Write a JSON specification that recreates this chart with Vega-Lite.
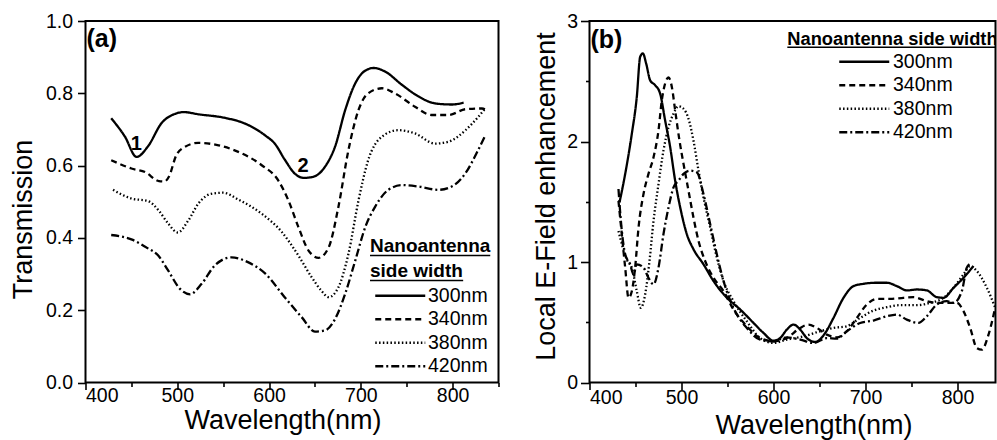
{
  "$schema": "https://vega.github.io/schema/vega-lite/v6.json",
  "padding": {"left": 7.5, "top": 10, "right": 0, "bottom": 0},
  "background": "white",
  "config": {
    "font": "Liberation Sans",
    "view": {"stroke": "black", "strokeWidth": 2},
    "axis": {
      "domain": false,
      "grid": false,
      "tickColor": "black",
      "tickWidth": 1.6,
      "labelColor": "black",
      "labelFont": "Liberation Sans",
      "labelFontSize": 19.5,
      "labelOverlap": false,
      "titleColor": "black",
      "titleFont": "Liberation Sans",
      "titleFontSize": 27,
      "titleFontWeight": "normal"
    },
    "legend": {"padding": 0}
  },
  "datasets": {
    "a": [
      {"w": 428, "s": "300nm", "t": 0.731},
      {"w": 443, "s": "300nm", "t": 0.680},
      {"w": 455.6, "s": "300nm", "t": 0.624},
      {"w": 468, "s": "300nm", "t": 0.653},
      {"w": 483, "s": "300nm", "t": 0.718},
      {"w": 497.5, "s": "300nm", "t": 0.743},
      {"w": 507, "s": "300nm", "t": 0.748},
      {"w": 523, "s": "300nm", "t": 0.742},
      {"w": 552, "s": "300nm", "t": 0.732},
      {"w": 574, "s": "300nm", "t": 0.716},
      {"w": 596, "s": "300nm", "t": 0.683},
      {"w": 606.5, "s": "300nm", "t": 0.660},
      {"w": 617, "s": "300nm", "t": 0.617},
      {"w": 628, "s": "300nm", "t": 0.578},
      {"w": 638, "s": "300nm", "t": 0.566},
      {"w": 648, "s": "300nm", "t": 0.569},
      {"w": 661, "s": "300nm", "t": 0.597},
      {"w": 672, "s": "300nm", "t": 0.653},
      {"w": 683, "s": "300nm", "t": 0.754},
      {"w": 694, "s": "300nm", "t": 0.828},
      {"w": 705, "s": "300nm", "t": 0.863},
      {"w": 714, "s": "300nm", "t": 0.870},
      {"w": 726.5, "s": "300nm", "t": 0.860},
      {"w": 745, "s": "300nm", "t": 0.823},
      {"w": 763, "s": "300nm", "t": 0.791},
      {"w": 781, "s": "300nm", "t": 0.772},
      {"w": 799, "s": "300nm", "t": 0.769},
      {"w": 812, "s": "300nm", "t": 0.774},

      {"w": 428, "s": "340nm", "t": 0.615},
      {"w": 450, "s": "340nm", "t": 0.592},
      {"w": 465, "s": "340nm", "t": 0.582},
      {"w": 480, "s": "340nm", "t": 0.557},
      {"w": 486, "s": "340nm", "t": 0.556},
      {"w": 491, "s": "340nm", "t": 0.570},
      {"w": 499, "s": "340nm", "t": 0.629},
      {"w": 508.5, "s": "340nm", "t": 0.652},
      {"w": 523, "s": "340nm", "t": 0.663},
      {"w": 545, "s": "340nm", "t": 0.656},
      {"w": 566.5, "s": "340nm", "t": 0.638},
      {"w": 592, "s": "340nm", "t": 0.601},
      {"w": 610, "s": "340nm", "t": 0.559},
      {"w": 621, "s": "340nm", "t": 0.504},
      {"w": 632, "s": "340nm", "t": 0.430},
      {"w": 643, "s": "340nm", "t": 0.365},
      {"w": 654, "s": "340nm", "t": 0.345},
      {"w": 665, "s": "340nm", "t": 0.374},
      {"w": 675.5, "s": "340nm", "t": 0.485},
      {"w": 686.5, "s": "340nm", "t": 0.643},
      {"w": 697.5, "s": "340nm", "t": 0.754},
      {"w": 708, "s": "340nm", "t": 0.800},
      {"w": 723, "s": "340nm", "t": 0.814},
      {"w": 737, "s": "340nm", "t": 0.800},
      {"w": 759, "s": "340nm", "t": 0.763},
      {"w": 777, "s": "340nm", "t": 0.740},
      {"w": 795.5, "s": "340nm", "t": 0.740},
      {"w": 814, "s": "340nm", "t": 0.756},
      {"w": 832, "s": "340nm", "t": 0.758},
      {"w": 837, "s": "340nm", "t": 0.754},

      {"w": 430, "s": "380nm", "t": 0.533},
      {"w": 450, "s": "380nm", "t": 0.509},
      {"w": 468, "s": "380nm", "t": 0.502},
      {"w": 480, "s": "380nm", "t": 0.475},
      {"w": 490, "s": "380nm", "t": 0.440},
      {"w": 500.5, "s": "380nm", "t": 0.415},
      {"w": 512, "s": "380nm", "t": 0.448},
      {"w": 523, "s": "380nm", "t": 0.495},
      {"w": 537, "s": "380nm", "t": 0.522},
      {"w": 550, "s": "380nm", "t": 0.525},
      {"w": 566.5, "s": "380nm", "t": 0.506},
      {"w": 592, "s": "380nm", "t": 0.467},
      {"w": 614, "s": "380nm", "t": 0.416},
      {"w": 632, "s": "380nm", "t": 0.351},
      {"w": 646.5, "s": "380nm", "t": 0.291},
      {"w": 657, "s": "380nm", "t": 0.254},
      {"w": 665, "s": "380nm", "t": 0.236},
      {"w": 675.5, "s": "380nm", "t": 0.263},
      {"w": 686.5, "s": "380nm", "t": 0.356},
      {"w": 697.5, "s": "380nm", "t": 0.504},
      {"w": 708, "s": "380nm", "t": 0.615},
      {"w": 723, "s": "380nm", "t": 0.680},
      {"w": 741, "s": "380nm", "t": 0.698},
      {"w": 759, "s": "380nm", "t": 0.689},
      {"w": 781, "s": "380nm", "t": 0.661},
      {"w": 795.5, "s": "380nm", "t": 0.666},
      {"w": 814, "s": "380nm", "t": 0.698},
      {"w": 828, "s": "380nm", "t": 0.735},
      {"w": 835.5, "s": "380nm", "t": 0.758},

      {"w": 428, "s": "420nm", "t": 0.408},
      {"w": 450, "s": "420nm", "t": 0.396},
      {"w": 468, "s": "420nm", "t": 0.371},
      {"w": 479, "s": "420nm", "t": 0.352},
      {"w": 490, "s": "420nm", "t": 0.310},
      {"w": 503, "s": "420nm", "t": 0.259},
      {"w": 514, "s": "420nm", "t": 0.244},
      {"w": 526.5, "s": "420nm", "t": 0.273},
      {"w": 541, "s": "420nm", "t": 0.324},
      {"w": 559, "s": "420nm", "t": 0.346},
      {"w": 577, "s": "420nm", "t": 0.333},
      {"w": 596, "s": "420nm", "t": 0.301},
      {"w": 617, "s": "420nm", "t": 0.236},
      {"w": 635.5, "s": "420nm", "t": 0.181},
      {"w": 650, "s": "420nm", "t": 0.141},
      {"w": 661, "s": "420nm", "t": 0.144},
      {"w": 672, "s": "420nm", "t": 0.176},
      {"w": 683, "s": "420nm", "t": 0.246},
      {"w": 694, "s": "420nm", "t": 0.338},
      {"w": 705, "s": "420nm", "t": 0.431},
      {"w": 715.5, "s": "420nm", "t": 0.486},
      {"w": 730, "s": "420nm", "t": 0.533},
      {"w": 745, "s": "420nm", "t": 0.546},
      {"w": 763, "s": "420nm", "t": 0.542},
      {"w": 784.5, "s": "420nm", "t": 0.533},
      {"w": 799, "s": "420nm", "t": 0.542},
      {"w": 814, "s": "420nm", "t": 0.579},
      {"w": 828, "s": "420nm", "t": 0.644},
      {"w": 835.5, "s": "420nm", "t": 0.683}
    ],
    "b": [
      {"w": 432.6, "s": "300nm", "t": 1.494},
      {"w": 438.8, "s": "300nm", "t": 1.731},
      {"w": 446, "s": "300nm", "t": 2.064},
      {"w": 451.4, "s": "300nm", "t": 2.369},
      {"w": 455.1, "s": "300nm", "t": 2.703},
      {"w": 458, "s": "300nm", "t": 2.731},
      {"w": 461.6, "s": "300nm", "t": 2.647},
      {"w": 465.9, "s": "300nm", "t": 2.508},
      {"w": 471.4, "s": "300nm", "t": 2.467},
      {"w": 476.8, "s": "300nm", "t": 2.397},
      {"w": 482.2, "s": "300nm", "t": 2.175},
      {"w": 487.7, "s": "300nm", "t": 1.953},
      {"w": 493.1, "s": "300nm", "t": 1.675},
      {"w": 498.6, "s": "300nm", "t": 1.453},
      {"w": 505.8, "s": "300nm", "t": 1.231},
      {"w": 513, "s": "300nm", "t": 1.106},
      {"w": 523.9, "s": "300nm", "t": 0.981},
      {"w": 534.8, "s": "300nm", "t": 0.842},
      {"w": 549.3, "s": "300nm", "t": 0.703},
      {"w": 563.8, "s": "300nm", "t": 0.606},
      {"w": 578.3, "s": "300nm", "t": 0.494},
      {"w": 589.1, "s": "300nm", "t": 0.411},
      {"w": 600, "s": "300nm", "t": 0.347},
      {"w": 607.2, "s": "300nm", "t": 0.369},
      {"w": 614.5, "s": "300nm", "t": 0.439},
      {"w": 621.7, "s": "300nm", "t": 0.481},
      {"w": 629, "s": "300nm", "t": 0.439},
      {"w": 636.2, "s": "300nm", "t": 0.369},
      {"w": 645.3, "s": "300nm", "t": 0.336},
      {"w": 656.2, "s": "300nm", "t": 0.411},
      {"w": 665.2, "s": "300nm", "t": 0.536},
      {"w": 676.1, "s": "300nm", "t": 0.703},
      {"w": 687, "s": "300nm", "t": 0.800},
      {"w": 697.8, "s": "300nm", "t": 0.819},
      {"w": 712.3, "s": "300nm", "t": 0.828},
      {"w": 723.2, "s": "300nm", "t": 0.828},
      {"w": 734, "s": "300nm", "t": 0.800},
      {"w": 744.9, "s": "300nm", "t": 0.764},
      {"w": 755.8, "s": "300nm", "t": 0.772},
      {"w": 766.7, "s": "300nm", "t": 0.764},
      {"w": 777.5, "s": "300nm", "t": 0.708},
      {"w": 784.8, "s": "300nm", "t": 0.703},
      {"w": 795.7, "s": "300nm", "t": 0.786},
      {"w": 806.5, "s": "300nm", "t": 0.869},
      {"w": 817.4, "s": "300nm", "t": 0.967},

      {"w": 431.5, "s": "340nm", "t": 1.508},
      {"w": 435.1, "s": "340nm", "t": 1.231},
      {"w": 438.8, "s": "340nm", "t": 0.953},
      {"w": 442.4, "s": "340nm", "t": 0.703},
      {"w": 446, "s": "340nm", "t": 0.758},
      {"w": 449.6, "s": "340nm", "t": 0.953},
      {"w": 453.3, "s": "340nm", "t": 1.286},
      {"w": 458.7, "s": "340nm", "t": 1.564},
      {"w": 464.1, "s": "340nm", "t": 1.731},
      {"w": 469.6, "s": "340nm", "t": 1.869},
      {"w": 475, "s": "340nm", "t": 2.092},
      {"w": 478.6, "s": "340nm", "t": 2.342},
      {"w": 482.2, "s": "340nm", "t": 2.481},
      {"w": 485.9, "s": "340nm", "t": 2.531},
      {"w": 489.5, "s": "340nm", "t": 2.453},
      {"w": 493.1, "s": "340nm", "t": 2.258},
      {"w": 497.8, "s": "340nm", "t": 2.008},
      {"w": 502.2, "s": "340nm", "t": 1.814},
      {"w": 507.6, "s": "340nm", "t": 1.592},
      {"w": 513, "s": "340nm", "t": 1.369},
      {"w": 518.5, "s": "340nm", "t": 1.175},
      {"w": 525.7, "s": "340nm", "t": 1.008},
      {"w": 534.8, "s": "340nm", "t": 0.869},
      {"w": 545.7, "s": "340nm", "t": 0.758},
      {"w": 556.5, "s": "340nm", "t": 0.606},
      {"w": 571, "s": "340nm", "t": 0.467},
      {"w": 585.5, "s": "340nm", "t": 0.369},
      {"w": 600, "s": "340nm", "t": 0.342},
      {"w": 614.5, "s": "340nm", "t": 0.369},
      {"w": 629, "s": "340nm", "t": 0.453},
      {"w": 638, "s": "340nm", "t": 0.481},
      {"w": 647.1, "s": "340nm", "t": 0.453},
      {"w": 658, "s": "340nm", "t": 0.397},
      {"w": 668.8, "s": "340nm", "t": 0.375},
      {"w": 679.7, "s": "340nm", "t": 0.425},
      {"w": 690.6, "s": "340nm", "t": 0.536},
      {"w": 701.4, "s": "340nm", "t": 0.647},
      {"w": 712.3, "s": "340nm", "t": 0.694},
      {"w": 726.8, "s": "340nm", "t": 0.694},
      {"w": 741.3, "s": "340nm", "t": 0.703},
      {"w": 752.2, "s": "340nm", "t": 0.708},
      {"w": 766.7, "s": "340nm", "t": 0.675},
      {"w": 777.5, "s": "340nm", "t": 0.661},
      {"w": 788.4, "s": "340nm", "t": 0.661},
      {"w": 799.3, "s": "340nm", "t": 0.661},
      {"w": 806.5, "s": "340nm", "t": 0.592},
      {"w": 813.8, "s": "340nm", "t": 0.453},
      {"w": 821, "s": "340nm", "t": 0.286},
      {"w": 826.4, "s": "340nm", "t": 0.272},
      {"w": 833.7, "s": "340nm", "t": 0.397},
      {"w": 840.9, "s": "340nm", "t": 0.619},

      {"w": 431.5, "s": "380nm", "t": 1.258},
      {"w": 436.2, "s": "380nm", "t": 1.119},
      {"w": 441.3, "s": "380nm", "t": 1.008},
      {"w": 446, "s": "380nm", "t": 0.953},
      {"w": 451.4, "s": "380nm", "t": 0.758},
      {"w": 455.8, "s": "380nm", "t": 0.619},
      {"w": 460.5, "s": "380nm", "t": 0.731},
      {"w": 465.2, "s": "380nm", "t": 1.008},
      {"w": 469.6, "s": "380nm", "t": 1.342},
      {"w": 475, "s": "380nm", "t": 1.647},
      {"w": 480.4, "s": "380nm", "t": 1.925},
      {"w": 485.9, "s": "380nm", "t": 2.119},
      {"w": 491.3, "s": "380nm", "t": 2.231},
      {"w": 496.7, "s": "380nm", "t": 2.292},
      {"w": 502.2, "s": "380nm", "t": 2.272},
      {"w": 507.6, "s": "380nm", "t": 2.189},
      {"w": 513, "s": "380nm", "t": 2.008},
      {"w": 518.5, "s": "380nm", "t": 1.758},
      {"w": 523.9, "s": "380nm", "t": 1.536},
      {"w": 531.2, "s": "380nm", "t": 1.286},
      {"w": 538.4, "s": "380nm", "t": 1.036},
      {"w": 545.7, "s": "380nm", "t": 0.842},
      {"w": 556.5, "s": "380nm", "t": 0.675},
      {"w": 571, "s": "380nm", "t": 0.508},
      {"w": 585.5, "s": "380nm", "t": 0.369},
      {"w": 600, "s": "380nm", "t": 0.328},
      {"w": 614.5, "s": "380nm", "t": 0.356},
      {"w": 632.6, "s": "380nm", "t": 0.383},
      {"w": 650.7, "s": "380nm", "t": 0.425},
      {"w": 665.2, "s": "380nm", "t": 0.453},
      {"w": 679.7, "s": "380nm", "t": 0.467},
      {"w": 694.2, "s": "380nm", "t": 0.536},
      {"w": 708.7, "s": "380nm", "t": 0.597},
      {"w": 723.2, "s": "380nm", "t": 0.625},
      {"w": 737.7, "s": "380nm", "t": 0.642},
      {"w": 755.8, "s": "380nm", "t": 0.642},
      {"w": 770.3, "s": "380nm", "t": 0.661},
      {"w": 784.8, "s": "380nm", "t": 0.703},
      {"w": 795.7, "s": "380nm", "t": 0.786},
      {"w": 806.5, "s": "380nm", "t": 0.897},
      {"w": 813.8, "s": "380nm", "t": 0.967},
      {"w": 821, "s": "380nm", "t": 0.925},
      {"w": 831.9, "s": "380nm", "t": 0.786},
      {"w": 841, "s": "380nm", "t": 0.620},

      {"w": 431.5, "s": "420nm", "t": 1.606},
      {"w": 434.1, "s": "420nm", "t": 1.342},
      {"w": 438.8, "s": "420nm", "t": 1.064},
      {"w": 444.2, "s": "420nm", "t": 0.981},
      {"w": 447.8, "s": "420nm", "t": 0.897},
      {"w": 451.4, "s": "420nm", "t": 0.981},
      {"w": 458.7, "s": "420nm", "t": 0.953},
      {"w": 464.1, "s": "420nm", "t": 0.869},
      {"w": 469.6, "s": "420nm", "t": 0.814},
      {"w": 475, "s": "420nm", "t": 0.953},
      {"w": 480.4, "s": "420nm", "t": 1.231},
      {"w": 485.9, "s": "420nm", "t": 1.453},
      {"w": 491.3, "s": "420nm", "t": 1.619},
      {"w": 496.7, "s": "420nm", "t": 1.675},
      {"w": 502.2, "s": "420nm", "t": 1.731},
      {"w": 509.4, "s": "420nm", "t": 1.758},
      {"w": 516.7, "s": "420nm", "t": 1.744},
      {"w": 523.9, "s": "420nm", "t": 1.564},
      {"w": 531.2, "s": "420nm", "t": 1.314},
      {"w": 538.4, "s": "420nm", "t": 1.064},
      {"w": 545.7, "s": "420nm", "t": 0.842},
      {"w": 556.5, "s": "420nm", "t": 0.619},
      {"w": 571, "s": "420nm", "t": 0.453},
      {"w": 585.5, "s": "420nm", "t": 0.356},
      {"w": 600, "s": "420nm", "t": 0.342},
      {"w": 614.5, "s": "420nm", "t": 0.375},
      {"w": 629, "s": "420nm", "t": 0.356},
      {"w": 643.5, "s": "420nm", "t": 0.328},
      {"w": 658, "s": "420nm", "t": 0.369},
      {"w": 668.8, "s": "420nm", "t": 0.364},
      {"w": 679.7, "s": "420nm", "t": 0.425},
      {"w": 694.2, "s": "420nm", "t": 0.494},
      {"w": 708.7, "s": "420nm", "t": 0.514},
      {"w": 723.2, "s": "420nm", "t": 0.550},
      {"w": 734, "s": "420nm", "t": 0.564},
      {"w": 744.9, "s": "420nm", "t": 0.522},
      {"w": 757.6, "s": "420nm", "t": 0.494},
      {"w": 766.7, "s": "420nm", "t": 0.550},
      {"w": 777.5, "s": "420nm", "t": 0.647},
      {"w": 788.4, "s": "420nm", "t": 0.675},
      {"w": 795.7, "s": "420nm", "t": 0.661},
      {"w": 804.7, "s": "420nm", "t": 0.758},
      {"w": 810.1, "s": "420nm", "t": 0.953},
      {"w": 813, "s": "420nm", "t": 0.981}
    ],
    "one": [{}]
  },
  "resolve": {
    "scale": {"x": "independent", "y": "independent", "strokeDash": "independent"},
    "legend": {"strokeDash": "independent"}
  },
  "spacing": 31,
  "hconcat": [
    {
      "width": 413,
      "height": 361.5,
      "layer": [
        {
          "data": {"name": "a"},
          "mark": {"type": "line", "color": "black", "strokeWidth": 2.3, "interpolate": "monotone", "clip": true},
          "encoding": {
            "x": {
              "field": "w", "type": "quantitative",
              "scale": {"domain": [400, 850], "nice": false, "zero": false},
              "axis": {
                "title": "Wavelength(nm)",
                "values": [400, 450, 500, 550, 600, 650, 700, 750, 800, 850],
                "labelExpr": "datum.value % 100 === 0 ? datum.label : ''",
                "tickSize": {"condition": {"test": "datum.value % 100 === 0", "value": 7}, "value": 4},
                "labelPadding": -3,
                "titleBaseline": "alphabetic",
                "titleAlign": "center",
                "titleX": 197,
                "titleY": 46
              }
            },
            "y": {
              "field": "t", "type": "quantitative",
              "scale": {"domain": [0, 1], "nice": false},
              "axis": {
                "title": "Transmission",
                "values": [0, 0.1, 0.2, 0.3, 0.4, 0.5, 0.6, 0.7, 0.8, 0.9, 1.0],
                "labelExpr": "round(datum.value * 10) % 2 === 0 ? format(datum.value, '.1f') : ''",
                "tickSize": {"condition": {"test": "round(datum.value * 10) % 2 === 0", "value": 8}, "value": 4},
                "labelPadding": 5,
                "titleBaseline": "alphabetic",
                "titleAngle": -90,
                "titleAlign": "center",
                "titleX": -54.5,
                "titleY": 198
              }
            },
            "strokeDash": {
              "field": "s", "type": "nominal",
              "scale": {"domain": ["300nm", "340nm", "380nm", "420nm"], "range": [[1, 0], [6, 4], [1.5, 2.3], [8, 3, 2, 3]]},
              "legend": {
                "title": null,
                "orient": "none",
                "legendX": 305,
                "legendY": 265,
                "symbolType": "M-5,0H5",
                "symbolSize": 100,
                "symbolStrokeWidth": 2.3,
                "symbolStrokeColor": "black",
                "labelFontSize": 19.5,
                "labelColor": "black",
                "labelOffset": 18,
                "rowPadding": 2.5
              }
            }
          }
        },
        {
          "data": {"name": "one"},
          "mark": {"type": "text", "fontSize": 25, "fontWeight": "bold", "align": "left", "baseline": "alphabetic", "color": "black"},
          "encoding": {"x": {"datum": 401}, "y": {"datum": 0.928}, "text": {"value": "(a)"}}
        },
        {
          "data": {"name": "one"},
          "mark": {"type": "text", "fontSize": 20, "fontWeight": "bold", "align": "center", "baseline": "alphabetic", "color": "black"},
          "encoding": {"x": {"datum": 455.5}, "y": {"datum": 0.642}, "text": {"value": "1"}}
        },
        {
          "data": {"name": "one"},
          "mark": {"type": "text", "fontSize": 20, "fontWeight": "bold", "align": "center", "baseline": "alphabetic", "color": "black"},
          "encoding": {"x": {"datum": 637}, "y": {"datum": 0.582}, "text": {"value": "2"}}
        },
        {
          "data": {"name": "one"},
          "mark": {"type": "text", "fontSize": 19, "fontWeight": "bold", "align": "left", "baseline": "alphabetic", "color": "black"},
          "encoding": {"x": {"datum": 710}, "y": {"datum": 0.360}, "text": {"value": "Nanoantenna"}}
        },
        {
          "data": {"name": "one"},
          "mark": {"type": "text", "fontSize": 19, "fontWeight": "bold", "align": "left", "baseline": "alphabetic", "color": "black"},
          "encoding": {"x": {"datum": 710}, "y": {"datum": 0.291}, "text": {"value": "side width"}}
        },
        {
          "data": {"name": "one"},
          "mark": {"type": "rule", "color": "black", "strokeWidth": 1.5},
          "encoding": {"x": {"datum": 710}, "x2": {"datum": 841}, "y": {"datum": 0.351}}
        },
        {
          "data": {"name": "one"},
          "mark": {"type": "rule", "color": "black", "strokeWidth": 1.5},
          "encoding": {"x": {"datum": 710}, "x2": {"datum": 811.5}, "y": {"datum": 0.282}}
        }
      ]
    },
    {
      "width": 406,
      "height": 361.5,
      "layer": [
        {
          "data": {"name": "b"},
          "mark": {"type": "line", "color": "black", "strokeWidth": 2.3, "interpolate": "monotone", "clip": true},
          "encoding": {
            "x": {
              "field": "w", "type": "quantitative",
              "scale": {"domain": [400, 841.3], "nice": false, "zero": false},
              "axis": {
                "title": "Wavelength(nm)",
                "values": [400, 450, 500, 550, 600, 650, 700, 750, 800],
                "labelExpr": "datum.value % 100 === 0 ? datum.label : ''",
                "tickSize": {"condition": {"test": "datum.value % 100 === 0", "value": 7}, "value": 4},
                "labelPadding": -1,
                "titleBaseline": "alphabetic",
                "titleAlign": "center",
                "titleX": 224,
                "titleY": 50.5
              }
            },
            "y": {
              "field": "t", "type": "quantitative",
              "scale": {"domain": [0, 3], "nice": false},
              "axis": {
                "title": "Local E-Field enhancement",
                "values": [0, 0.25, 0.5, 0.75, 1, 1.25, 1.5, 1.75, 2, 2.25, 2.5, 2.75, 3],
                "labelExpr": "datum.value % 1 === 0 ? format(datum.value, 'd') : ''",
                "tickSize": {"condition": {"test": "datum.value % 1 === 0", "value": 9}, "value": 4},
                "labelPadding": 3,
                "titleBaseline": "alphabetic",
                "titleAngle": -90,
                "titleAlign": "center",
                "titleX": -35,
                "titleY": 175
              }
            },
            "strokeDash": {
              "field": "s", "type": "nominal",
              "scale": {"domain": ["300nm", "340nm", "380nm", "420nm"], "range": [[1, 0], [6, 4], [1.5, 2.3], [8, 3, 2, 3]]},
              "legend": {
                "title": null,
                "orient": "none",
                "legendX": 265,
                "legendY": 31,
                "symbolType": "M-5,0H5",
                "symbolSize": 100,
                "symbolStrokeWidth": 2.3,
                "symbolStrokeColor": "black",
                "labelFontSize": 19.5,
                "labelColor": "black",
                "labelOffset": 19,
                "rowPadding": 2.5
              }
            }
          }
        },
        {
          "data": {"name": "one"},
          "mark": {"type": "text", "fontSize": 25, "fontWeight": "bold", "align": "left", "baseline": "alphabetic", "color": "black"},
          "encoding": {"x": {"datum": 401}, "y": {"datum": 2.78}, "text": {"value": "(b)"}}
        },
        {
          "data": {"name": "one"},
          "mark": {"type": "text", "fontSize": 18.3, "fontWeight": "bold", "align": "left", "baseline": "alphabetic", "color": "black", "clip": true},
          "encoding": {"x": {"datum": 615}, "y": {"datum": 2.803}, "text": {"value": "Nanoantenna side width"}}
        },
        {
          "data": {"name": "one"},
          "mark": {"type": "rule", "color": "black", "strokeWidth": 1.5},
          "encoding": {"x": {"datum": 615}, "x2": {"datum": 841.3}, "y": {"datum": 2.782}}
        }
      ]
    }
  ]
}
